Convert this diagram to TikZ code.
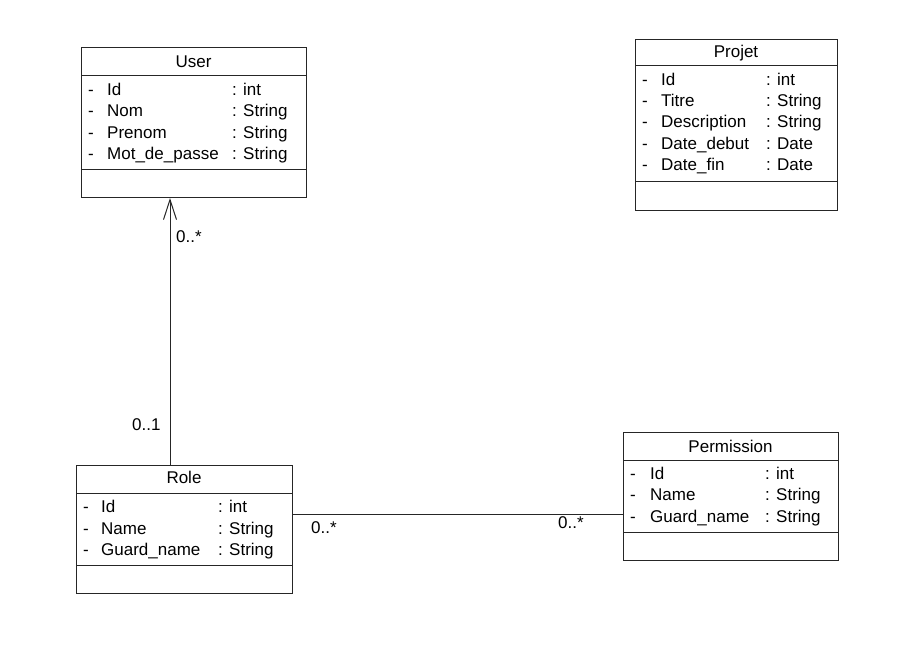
\documentclass[tikz,border=0pt]{standalone}
\usepackage{fontspec}
\setmainfont{Liberation Sans}
\usetikzlibrary{arrows.meta}
\begin{document}
\begin{tikzpicture}[x=1pt,y=-1pt,
  every node/.style={font=\fontsize{17}{20}\selectfont, text=black, inner sep=0pt},
  classbox/.style={draw=black!85, line width=1pt, rectangle, anchor=north west, inner sep=0pt},
  divider/.style={draw=black!85, line width=1pt},
  txt/.style={anchor=base west},
  hdr/.style={anchor=base},
  mult/.style={anchor=base west},
  assoc/.style={draw=black!85, line width=1pt}]
\useasboundingbox (0,0) rectangle (921,646);
% ---------- User ----------
\node[classbox, minimum width=225pt, minimum height=150pt] (user) at (81,47) {};
\draw[divider] (81,75) -- (306,75);
\draw[divider] (81,169) -- (306,169);
\node[hdr] (userh) at (193.5,67) {User};
\node[txt] (u1d) at (88,95) {-};   \node[txt] (u1n) at (107,95) {Id};           \node[txt] (u1t) at (232,95) {: int};
\node[txt] (u2d) at (88,116) {-};  \node[txt] (u2n) at (107,116) {Nom};         \node[txt] (u2t) at (232,116) {: String};
\node[txt] (u3d) at (88,138) {-};  \node[txt] (u3n) at (107,138) {Prenom};      \node[txt] (u3t) at (232,138) {: String};
\node[txt] (u4d) at (88,159) {-};  \node[txt] (u4n) at (107,159) {Mot\_de\_passe}; \node[txt] (u4t) at (232,159) {: String};
% ---------- Projet ----------
\node[classbox, minimum width=202pt, minimum height=171pt] (projet) at (635,39) {};
\draw[divider] (635,65) -- (837,65);
\draw[divider] (635,181) -- (837,181);
\node[hdr] (projeth) at (736,57) {Projet};
\node[txt] (p1d) at (642,85) {-};  \node[txt] (p1n) at (661,85) {Id};          \node[txt] (p1t) at (766,85) {: int};
\node[txt] (p2d) at (642,106) {-}; \node[txt] (p2n) at (661,106) {Titre};      \node[txt] (p2t) at (766,106) {: String};
\node[txt] (p3d) at (642,127) {-}; \node[txt] (p3n) at (661,127) {Description}; \node[txt] (p3t) at (766,127) {: String};
\node[txt] (p4d) at (642,149) {-}; \node[txt] (p4n) at (661,149) {Date\_debut}; \node[txt] (p4t) at (766,149) {: Date};
\node[txt] (p5d) at (642,170) {-}; \node[txt] (p5n) at (661,170) {Date\_fin};  \node[txt] (p5t) at (766,170) {: Date};
% ---------- Role ----------
\node[classbox, minimum width=216pt, minimum height=128pt] (role) at (76,465) {};
\draw[divider] (76,493) -- (292,493);
\draw[divider] (76,565) -- (292,565);
\node[hdr] (roleh) at (184,483) {Role};
\node[txt] (r1d) at (83,512) {-};  \node[txt] (r1n) at (101,512) {Id};         \node[txt] (r1t) at (218,512) {: int};
\node[txt] (r2d) at (83,534) {-};  \node[txt] (r2n) at (101,534) {Name};       \node[txt] (r2t) at (218,534) {: String};
\node[txt] (r3d) at (83,555) {-};  \node[txt] (r3n) at (101,555) {Guard\_name}; \node[txt] (r3t) at (218,555) {: String};
% ---------- Permission ----------
\node[classbox, minimum width=215pt, minimum height=128pt] (perm) at (623,432) {};
\draw[divider] (623,460) -- (838,460);
\draw[divider] (623,532) -- (838,532);
\node[hdr] (permh) at (730.5,452) {Permission};
\node[txt] (q1d) at (630,479) {-}; \node[txt] (q1n) at (650,479) {Id};         \node[txt] (q1t) at (765,479) {: int};
\node[txt] (q2d) at (630,500) {-}; \node[txt] (q2n) at (650,500) {Name};       \node[txt] (q2t) at (765,500) {: String};
\node[txt] (q3d) at (630,522) {-}; \node[txt] (q3n) at (650,522) {Guard\_name}; \node[txt] (q3t) at (765,522) {: String};
% ---------- Associations ----------
\draw[assoc, -{Straight Barb[length=20pt,width=13pt,line width=1pt]}] (role.north -| 170,0) -- (user.south -| 170,0);
\draw[assoc] (role.east |- 0,514) -- (perm.west |- 0,514);
\node[mult] (m1) at (176,242) {0..*};
\node[mult] (m2) at (132,430) {0..1};
\node[mult] (m3) at (311,533) {0..*};
\node[mult] (m4) at (558,528) {0..*};
\end{tikzpicture}
\end{document}
